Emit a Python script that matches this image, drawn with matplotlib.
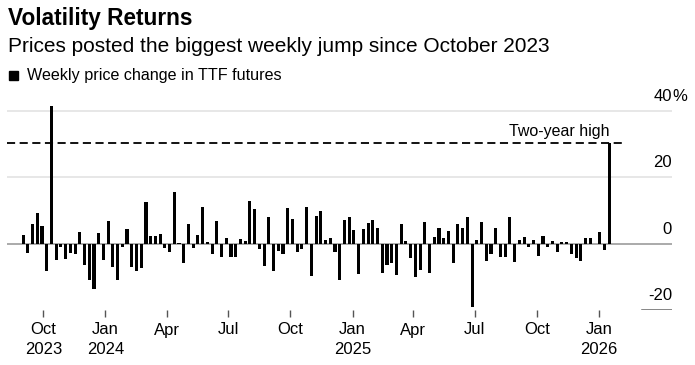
import matplotlib
matplotlib.use("Agg")
import matplotlib.pyplot as plt
from matplotlib.patches import Rectangle
import pandas as pd

plt.rcParams["font.family"] = ["Liberation Sans", "DejaVu Sans"]

# weekly % change in TTF front-month futures
weekly_change = [
    2.5, -2.9, 5.8, 9.1, 5.3, -8.4, 41.4, -5.1, -0.9, -4.7,
    -2.7, -3.1, 3.6, -6.4, -11.1, -13.7, 3.1, -5.1, 6.9, -7.2,
    -10.9, -0.9, 4.5, -7.2, -8.2, -7.4, 12.6, 2.3, 2.4, 2.9,
    -1.4, -2.5, 15.6, 0.2, -5.9, 5.8, -1.4, 2.6, 10.9, 0.4,
    -3.1, 6.9, -3.9, 1.7, -3.9, -3.9, 1.5, 0.9, 12.9, 10.3,
    -1.7, -6.9, 8.1, -8.2, -2.1, -3.2, 10.7, 7.5, -2.5, -1.5,
    11.1, -9.7, 8.3, 9.8, 1.1, 1.8, -2.6, -11.1, 7.1, 8.1,
    4.0, -9.1, 4.3, 6.1, 7.2, 4.8, -8.9, -6.6, -5.9, -9.6,
    5.8, 0.8, -4.5, -10.1, -7.9, 6.6, -8.9, 2.1, 4.7, 1.6,
    3.7, -5.9, 6.0, 4.6, 8.1, -19.0, 1.2, 6.4, -5.4, -3.1,
    4.6, -4.2, -4.2, 8.1, -5.7, 1.1, 2.1, -0.9, 1.2, -3.7,
    2.4, -0.9, 0.7, -2.6, 0.4, 0.4, -3.2, -4.4, -5.2, 1.7,
    1.7, -0.2, 3.4, -1.9, 30.2,
]
weeks = pd.date_range("2023-09-01", periods=len(weekly_change), freq="7D")
two_year_high = 30.2

tick_dates = pd.date_range("2023-10-01", "2026-01-01", freq="QS")
tick_labels = ["Oct\n2023", "Jan\n2024", "Apr", "Jul", "Oct",
               "Jan\n2025", "Apr", "Jul", "Oct", "Jan\n2026"]
y_ticks = [40, 20, 0, -20]
y_labels = ["40", "20", "0", "-20"]

W, H = 695, 365
fig = plt.figure(figsize=(W / 100, H / 100), dpi=100)
ax = fig.add_axes([7 / W, 55 / H, 665 / W, 213 / H])
ax.set_ylim(-20, 44.1)
ax.set_xlim(pd.Timestamp("2023-10-01") - pd.Timedelta(days=53.8),
            pd.Timestamp("2026-01-01") + pd.Timedelta(days=108.1))

# grid
ax.axhline(40, color="#e3e3e3", lw=1.2, zorder=1)
ax.axhline(20, color="#e3e3e3", lw=1.2, zorder=1)
ax.axhline(0, color="#9c9c9c", lw=1.2, zorder=2)
ax.axhline(-20, xmin=(641.7 - 7) / 665, xmax=1, color="#666666", lw=1.1)

ax.bar(weeks, weekly_change, width=4.6, color="black", zorder=3)

# two-year high marker
x0 = ax.get_xlim()[0]
ax.hlines(two_year_high, x0, weeks[-1] + pd.Timedelta(days=24),
          colors="black", lw=1.3, linestyles=(0, (4.5, 2.5)), zorder=4)
ax.annotate("Two-year high", xy=(weeks[-1], two_year_high), xytext=(0, 3),
            textcoords="offset points", ha="right", va="bottom", fontsize=11.5)

# right-hand value labels sitting above the gridlines
for v, lab in zip(y_ticks, y_labels):
    ax.annotate(lab, xy=(1, v), xycoords=("axes fraction", "data"),
                xytext=(0, 7), textcoords="offset points",
                ha="right", va="baseline", fontsize=12)
ax.annotate("%", xy=(1, 40), xycoords=("axes fraction", "data"),
            xytext=(0, 7), textcoords="offset points",
            ha="left", va="baseline", fontsize=12)

for s in ax.spines.values():
    s.set_visible(False)
ax.set_yticks([])
ax.set_xticks(tick_dates)
ax.set_xticklabels(tick_labels, fontsize=12, linespacing=1.35)
ax.tick_params(axis="x", length=5, width=1, color="#555555", pad=4)

# headings
fig.text(8 / W, 1 - 25 / H, "Volatility Returns", fontsize=16.3,
         fontweight="bold", va="baseline")
fig.text(8 / W, 1 - 52 / H, "Prices posted the biggest weekly jump since October 2023",
         fontsize=15, va="baseline")
fig.patches.append(Rectangle((9 / W, 1 - 80 / H), 9 / W, 9 / H,
                             transform=fig.transFigure, color="black"))
fig.text(27 / W, 1 - 80 / H, "Weekly price change in TTF futures",
         fontsize=11.6, va="baseline")

fig.savefig("out.png", dpi=100)
